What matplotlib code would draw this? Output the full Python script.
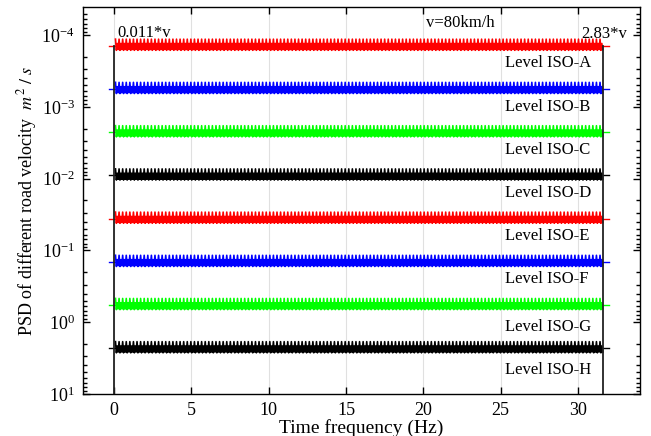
import numpy as np
import matplotlib
matplotlib.use('Agg')
from matplotlib import pyplot as plt
from matplotlib.ticker import LogLocator, NullFormatter

# PSD level of each road class
levels = [1.4e-4, 5.6e-4, 2.25e-3, 9.0e-3, 3.6e-2, 1.44e-1, 5.75e-1, 2.3]
names = ['Level ISO-A', 'Level ISO-B', 'Level ISO-C', 'Level ISO-D',
         'Level ISO-E', 'Level ISO-F', 'Level ISO-G', 'Level ISO-H']
colors = ['#ff0000', '#0000ff', '#00ff00', '#000000',
          '#ff0000', '#0000ff', '#00ff00', '#000000']
# relative ripple over one period of the computed PSD
ripple = [0.81, 1.16, 0.93, 1.13]
f_start, f_end, f_step = 0.1, 31.6, 0.058
f_low, f_high = 0.0, 31.6
x_ticks = [0, 5, 10, 15, 20, 25, 30]

plt.rcParams['font.family'] = ['Liberation Serif', 'DejaVu Serif']
plt.rcParams['mathtext.fontset'] = 'stix'

freq = np.arange(f_start, f_end, f_step)
rip = np.resize(np.array(ripple), len(freq))

fig = plt.figure(figsize=(6.51, 4.36), dpi=100)
ax = fig.add_axes([0.1275, 0.0963, 0.8555, 0.8877])

for i, (lev, c, name) in enumerate(zip(levels, colors, names)):
    ax.plot(freq, lev * rip, color=c, lw=1.2)
    ax.plot([-0.35, 32.0], [lev, lev], color=c, lw=1.0)
    ax.text(25.3, lev * (2.0 if i < 6 else 2.3), name, fontsize=12)

# frequency limits
ax.plot([f_low, f_low], [levels[0], 10], color='#222222', lw=1.3, zorder=5)
ax.plot([f_high, f_high], [levels[0], 10], color='#222222', lw=1.3, zorder=5)

ax.text(0.2, 1.06e-4, '0.011*v', fontsize=12)
ax.text(20.2, 7.7e-5, 'v=80km/h', fontsize=12)
ax.text(30.2, 1.09e-4, '2.83*v', fontsize=12)

ax.set_yscale('log')
ax.set_ylim(10, 4.04e-5)
ax.set_xlim(-2, 34)
ax.set_xticks(x_ticks)
ax.yaxis.set_major_locator(LogLocator(base=10, numticks=10))
ax.yaxis.set_minor_locator(LogLocator(base=10, subs=np.arange(2, 10), numticks=20))
ax.yaxis.set_minor_formatter(NullFormatter())

ax.tick_params(which='both', direction='in', top=True, right=True, width=1)
ax.tick_params(which='major', length=5, pad=6)
ax.tick_params(which='minor', length=3)
ax.tick_params(axis='x', labelsize=13)
ax.tick_params(axis='y', labelsize=13, pad=6)
for s in ax.spines.values():
    s.set_linewidth(1.0)

ax.grid(axis='x', color='#e0e0e0', lw=0.8)
ax.set_axisbelow(True)

ax.set_xlabel('Time frequency (Hz)', fontsize=14, labelpad=0)
ax.set_ylabel(r'PSD of different road velocity  $m^2\ /\ s$', fontsize=13, labelpad=2)

fig.savefig('out.png', dpi=100)
